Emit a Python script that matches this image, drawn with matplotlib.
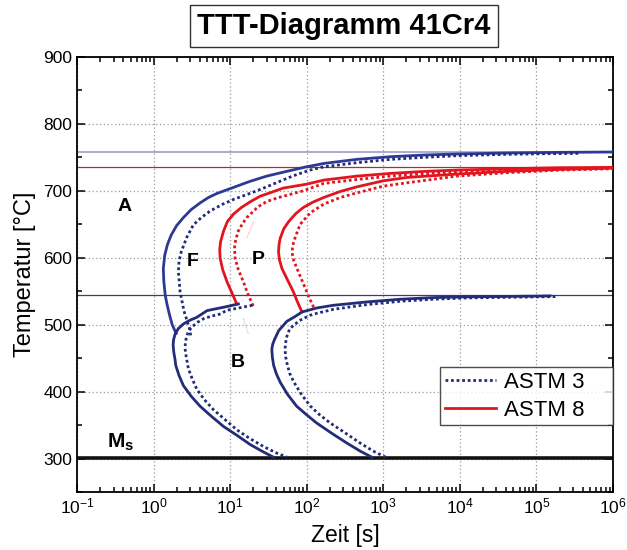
import numpy as np
import matplotlib
matplotlib.use("Agg")
import matplotlib.pyplot as plt
from matplotlib.lines import Line2D

plt.rcParams['font.family'] = ['Liberation Sans', 'DejaVu Sans']
plt.rcParams['mathtext.fontset'] = 'custom'
plt.rcParams['mathtext.rm'] = 'Liberation Sans'
plt.rcParams['mathtext.bf'] = 'Liberation Sans:bold'
plt.rcParams['mathtext.it'] = 'Liberation Sans:italic'

# ---- Ferrite start (blue) ----
f8_t = [1.97, 1.75, 1.62, 1.50, 1.42, 1.36, 1.34, 1.40, 1.52, 1.70, 2.0, 2.45,
        3.1, 4.06, 5.2, 6.7, 11, 18, 30, 50, 100, 170, 450, 1250, 3400, 9000,
        4e4, 2e5, 1e6]
f8_T = [487, 500, 514, 530, 544, 565, 584, 604, 620, 634, 648, 660, 672, 682,
        690, 696, 705, 714, 722, 728, 736, 741, 747, 751, 753.5, 755, 756.5,
        757.5, 758]
f3_t = [3.05, 2.95, 2.7, 2.5, 2.22, 2.11, 2.15, 2.3, 2.7, 3.3, 4.2, 5.5, 8,
        11, 17, 24.7, 42, 65, 110, 170, 450, 1240, 3400, 9000, 4e4, 1.5e5,
        3.8e5]
f3_T = [484, 494, 508, 520, 549, 579, 595, 609, 630, 649, 660, 670, 680, 687,
        695, 702, 713, 722, 731, 736, 742, 747, 750, 752.5, 754.5, 755.5, 756]

# ---- Pearlite start / finish (red) ----
ps8_t = [12.2, 10.5, 9.1, 8.0, 7.4, 7.3, 7.5, 8.2, 9.2, 11, 14, 18.5, 24.7,
         35, 49, 100, 166, 453, 1240, 3400, 9150, 4e4, 2e5, 1e6]
ps8_T = [531, 548, 564, 582, 599, 612, 624, 640, 654, 665, 675, 684, 692, 698,
         704, 710, 716, 722, 726, 729, 731, 733, 734.5, 735]
ps3_t = [20, 17, 14.9, 12.8, 11.6, 11.4, 11.8, 12.8, 14.5, 16.5, 19.5, 23, 30,
         43, 90, 166, 453, 1240, 3400, 9150, 4e4, 2e5, 1e6]
ps3_T = [528, 546, 564, 582, 599, 615, 627, 640, 651, 660, 668, 676, 684, 690,
         700, 711, 717, 722, 725.5, 728, 731, 733, 734.5]
pf8_t = [86.5, 75, 67, 56, 47.4, 44, 42.8, 43.5, 45, 50, 58, 72, 90, 120, 166,
         274, 453, 1000, 2040, 9150, 4e4, 2e5, 1e6]
pf8_T = [519, 535, 549, 567, 584, 597, 609, 620, 629, 643, 654, 666, 675, 683,
         690, 699, 706, 715, 720, 725, 729, 732, 734]
pf3_t = [123, 110, 100, 86, 74.5, 68, 65, 65, 67, 70, 82, 111, 166, 274, 453,
         1000, 2040, 9150, 4e4, 2e5, 1e6]
pf3_T = [526, 538, 549, 567, 584, 595, 605, 614, 622, 629, 650, 667, 680, 690,
         697, 707, 712, 722, 727, 731, 733]

# faint trace between the pearlite start curves
ghost_t = [20.2, 16.5, np.nan, 14.9, 17.3]
ghost_T = [654, 629, np.nan, 509, 486]

# ---- Bainite (blue) ----
b1_8_t = [12.8, 9.0, 6.7, 5.0, 3.67, 2.9, 2.45, 2.1, 1.91, 1.82, 1.8, 1.84,
          1.9, 1.95, 2.15, 2.45, 3.1, 4.06, 5.7, 8.17, 12.5, 18.2, 26, 36.8]
b1_8_T = [531, 527, 524, 521, 511, 506, 501, 494, 486, 477, 469, 458, 449,
          439, 424, 409, 393, 378, 363, 348, 334, 321, 311, 302]
b1_3_t = [19.5, 13, 9.0, 7.5, 5.8, 4.5, 3.8, 3.2, 2.85, 2.7, 2.6, 2.58, 2.65,
          2.85, 3.2, 3.67, 4.6, 6.05, 8.6, 12.2, 18, 27.2, 39, 55]
b1_3_T = [529, 525, 521.5, 516, 513, 509, 504, 497, 490, 482, 474, 464, 454,
          434, 419, 403.5, 388, 373, 358, 343, 330, 318, 309, 302]
b2_8_t = [708, 500, 335, 210, 135, 98, 74, 56, 45, 40, 37, 35.5, 35, 36, 38,
          43, 55, 70, 87, 136, 224, 612, 1670, 4540, 12400, 9.2e4, 1.5e5]
b2_8_T = [302, 311, 323, 338, 353, 366, 378, 396, 414, 427, 439, 452, 464,
          471, 478, 491, 505, 512, 519, 525, 529, 534, 538, 540.5, 541.6,
          542.6, 543]
b2_3_t = [1070, 740, 500, 320, 203, 145, 111, 85, 68, 60, 56, 53, 52, 53, 54,
          60, 80, 110, 136, 224, 612, 1670, 4540, 12400, 5e4, 1.86e5]
b2_3_T = [302, 311, 323, 338, 353, 366, 378.5, 396, 414, 427, 439, 452, 464,
          472, 480, 494, 506, 514, 517, 523, 530, 535, 538, 540, 541, 542]

# ---- reference temperatures ----
ac3 = 758
ac1 = 736
bs = 544
ms = 301

region_labels = ["A", "F", "P", "B"]
region_t = [0.42, 3.2, 23, 12.7]
region_T = [677, 594, 597, 444]

legend_labels = ["ASTM 3", "ASTM 8"]

blue = "#2b3a94"
navy = "#232c78"
red = "#e3141e"
dots = (0, (1, 1))

fig = plt.figure(figsize=(6.27, 5.5), dpi=100)
ax = fig.add_axes([0.1228, 0.1055, 0.8550, 0.7909])

ax.axhline(ac3, color="#9a9cc8", lw=1.2, zorder=2)
ax.axhline(ac1, color="#b52a2a", lw=0.9, zorder=2)
ax.axhline(bs, color="#3a3d6e", lw=0.9, zorder=2)
ax.axhline(ms, color="#111111", lw=2.6, zorder=2)

ax.plot(f8_t, f8_T, color=blue, lw=2.0, zorder=3)
ax.plot(f3_t, f3_T, color=navy, lw=2.0, ls=dots, zorder=3)
ax.plot(ps8_t, ps8_T, color=red, lw=2.0, zorder=3)
ax.plot(ps3_t, ps3_T, color=red, lw=2.0, ls=dots, zorder=3)
ax.plot(pf8_t, pf8_T, color=red, lw=2.0, zorder=3)
ax.plot(pf3_t, pf3_T, color=red, lw=2.0, ls=dots, zorder=3)
ax.plot(ghost_t, ghost_T, color="#e07080", lw=0.8, ls=dots, alpha=0.6, zorder=3)
ax.plot(b1_8_t, b1_8_T, color=navy, lw=2.0, zorder=3)
ax.plot(b1_3_t, b1_3_T, color=navy, lw=2.0, ls=dots, zorder=3)
ax.plot(b2_8_t, b2_8_T, color=navy, lw=2.0, zorder=3)
ax.plot(b2_3_t, b2_3_T, color=navy, lw=2.0, ls=dots, zorder=3)

for lab, tx, ty in zip(region_labels, region_t, region_T):
    ax.text(tx, ty, lab, fontsize=14, fontweight="bold", ha="center",
            va="center", zorder=5)
ax.text(0.37, 324, r"$\mathbf{M_s}$", fontsize=15, ha="center", va="center",
        zorder=5)

ax.set_xscale("log")
ax.set_xlim(0.1, 1e6)
ax.set_ylim(250, 900)
ax.set_yticks(np.arange(300, 901, 100))
ax.set_yticks(np.arange(250, 900, 50), minor=True)
ax.set_xticks([10.0 ** k for k in range(-1, 7)])

ax.grid(True, which="major", color="#999999", ls=(0, (1, 2)), lw=0.9)
ax.tick_params(which="both", direction="in", top=True, right=True,
               labelsize=12.5, width=1.1)
ax.tick_params(which="major", length=6)
ax.tick_params(which="minor", length=3.5)
for sp in ax.spines.values():
    sp.set_linewidth(1.3)

ax.set_xlabel("Zeit [s]", fontsize=16.5, labelpad=5)
ax.set_ylabel("Temperatur [°C]", fontsize=17, labelpad=5)

handles = [Line2D([], [], color=navy, lw=2.0, ls=dots),
           Line2D([], [], color=red, lw=2.0)]
leg = ax.legend(handles, [s + "    " for s in legend_labels],
                loc="lower right", bbox_to_anchor=(1.0, 0.154), fontsize=16,
                frameon=True, fancybox=False, edgecolor="#222222",
                handlelength=2.3, handletextpad=0.35, borderpad=0.2,
                labelspacing=0.3, borderaxespad=0)
leg.get_frame().set_linewidth(1.0)

fig.text(0.548, 0.953, "TTT-Diagramm 41Cr4", fontsize=21, fontweight="bold",
         ha="center", va="center",
         bbox=dict(boxstyle="square,pad=0.25", fc="white", ec="#333333",
                   lw=1.0))

fig.savefig("out.png", dpi=100)
